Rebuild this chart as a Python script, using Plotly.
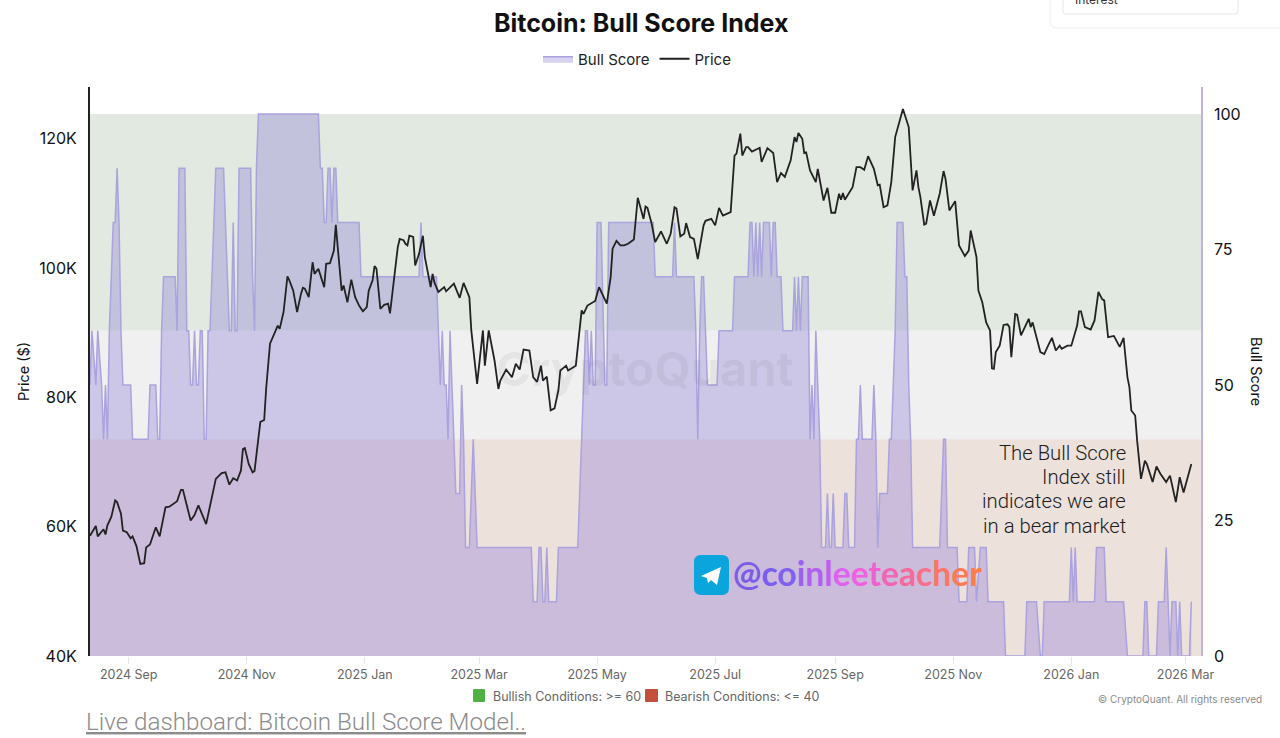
import pandas as pd
import plotly.graph_objects as go

start_date = "2024-08-12"

price_day = [
    0,3,4,7,8,9,11,13,14,16,
    17,19,21,22,24,26,28,29,31,34,
    36,37,39,41,43,45,47,48,50,52,
    54,56,60,62,65,68,70,72,74,76,
    78,79,80,82,84,85,87,88,90,91,
    93,95,97,98,100,102,103,105,107,109,
    110,111,113,115,116,118,121,122,124,126,
    127,128,130,131,133,135,137,139,141,143,
    144,146,147,148,150,152,154,155,157,159,
    160,162,163,164,165,167,168,170,172,173,
    176,177,178,180,183,184,188,191,193,196,
    197,198,200,203,204,206,209,211,212,215,
    218,220,222,224,227,229,231,233,234,236,
    238,240,242,243,246,247,251,254,255,257,
    259,261,263,267,269,270,272,274,276,278,
    281,283,286,287,288,290,292,295,298,300,
    302,303,305,307,308,310,312,314,317,318,
    321,323,325,327,331,333,334,336,337,339,
    340,342,345,346,347,350,353,355,357,359,
    362,364,365,366,368,369,370,372,375,376,
    379,381,383,385,387,388,389,390,394,396,
    398,400,402,404,405,407,408,410,412,414,
    416,420,423,425,427,428,429,431,432,434,
    436,439,441,442,444,447,449,452,454,455,
    458,459,461,463,465,466,467,468,470,472,
    474,475,476,478,479,481,485,486,487,491,
    493,495,497,499,501,502,505,507,510,511,
    512,514,517,519,521,523,524,526,529,532,
    534,536,537,538,540,541,543,545,546,549,
    551,553,556,558,561,563,565,569,
]
price_k = [
    58.6,60.1,58.5,59.6,58.8,60.2,61.5,64.05,63.8,62.0,
    59.4,59.15,58.2,58.5,57.0,54.25,54.35,56.8,57.25,59.9,
    58.5,60.2,63.0,63.1,63.5,63.95,65.7,65.7,63.3,60.95,
    61.8,63.3,60.4,63.0,67.4,68.3,68.4,66.5,67.5,67.15,
    68.7,72.0,72.15,69.7,68.4,68.6,74.1,76.2,76.5,81.3,
    88.3,89.6,91.1,90.6,93.2,98.7,98.1,96.5,93.2,96.0,
    96.95,96.8,95.5,100.9,99.1,99.9,97.05,100.66,100.76,102.7,
    106.7,103.2,96.5,97.3,94.7,98.2,95.5,94.2,93.3,93.95,
    96.5,98.1,100.3,99.9,93.7,94.3,94.5,93.0,98.6,103.2,
    104.5,104.3,103.75,103.5,105.0,104.8,100.4,102.2,105.0,101.7,
    97.05,99.1,97.7,96.3,97.05,96.4,97.6,95.4,97.7,95.5,
    90.35,87.5,82.1,90.35,84.9,90.35,85.7,81.3,82.6,84.3,
    83.1,85.2,84.3,87.4,87.25,83.1,82.4,84.9,82.6,83.2,
    78.0,78.3,81.1,84.16,84.9,84.16,84.9,93.44,92.9,94.2,
    94.5,94.9,97.05,94.5,98.6,103.0,104.2,103.5,103.5,103.75,
    104.4,110.87,107.6,109.5,109.3,107.1,104.0,105.66,103.75,105.3,
    109.4,109.2,104.9,105.3,106.95,104.8,104.5,101.4,106.6,107.3,
    107.6,106.6,109.3,108.1,108.65,117.4,117.7,120.8,117.4,118.7,
    118.7,118.0,118.45,118.6,116.4,118.55,117.8,113.3,114.7,114.1,
    116.65,120.25,119.5,120.9,120.0,117.8,117.9,115.1,113.3,115.35,
    110.45,112.4,108.55,108.55,111.5,110.56,111.6,110.56,112.5,115.6,
    115.6,115.2,117.3,115.9,115.35,112.8,112.9,109.4,109.7,113.3,
    120.25,124.6,121.8,112.0,115.1,112.5,111.0,106.7,106.85,110.45,
    108.1,111.5,115.0,113.8,108.9,110.35,103.5,101.85,102.7,105.8,
    101.7,96.5,94.7,91.6,90.35,84.5,84.4,87.0,88.0,91.2,
    91.3,90.86,86.2,92.9,92.8,89.6,92.15,90.86,91.6,87.0,
    86.7,88.0,89.2,87.25,88.0,87.5,88.0,88.0,91.1,93.3,
    93.3,90.86,90.5,91.9,96.3,95.15,95.0,89.3,89.5,87.8,
    89.2,83.1,81.6,77.97,77.2,73.3,67.4,70.2,69.7,66.9,
    69.3,68.2,66.9,67.9,63.8,67.65,65.3,69.7,
]

score_day = [
    0,1,3,4,6,7,8,9,10,11,
    12,13,14,15,16,17,21,22,30,31,
    34,35,36,37,38,44,45,46,49,50,
    51,52,53,54,55,56,57,58,59,60,
    61,62,63,64,65,69,70,71,72,73,
    74,75,76,77,83,84,85,86,87,118,
    119,120,121,122,123,124,125,126,127,128,
    139,140,170,171,172,179,180,181,182,183,
    184,185,186,187,188,189,191,192,193,194,
    196,197,198,199,200,228,229,231,232,233,
    234,235,236,237,241,242,252,253,254,255,
    256,257,258,259,260,261,262,264,266,267,
    268,291,292,301,302,303,312,313,314,315,
    316,317,318,319,324,325,332,333,340,341,
    342,343,344,345,346,347,348,351,352,353,
    354,355,357,358,363,364,365,366,367,368,
    371,372,373,374,375,376,377,378,380,381,
    382,383,384,385,389,390,391,392,395,396,
    397,398,399,404,405,406,407,408,412,413,
    414,415,416,417,420,421,422,423,424,425,
    439,441,442,443,448,449,453,454,457,458,
    460,463,464,472,473,483,484,489,491,492,
    493,506,507,508,509,510,519,520,524,525,
    534,536,544,545,546,547,551,552,555,556,
    557,558,559,561,562,563,564,568,569,
]
score_val = [
    50,60,50,60,50,40,50,40,60,70,
    80,80,90,80,60,50,50,40,40,50,
    50,40,40,60,70,70,60,90,90,60,
    60,50,50,60,50,50,60,60,40,40,
    60,60,70,80,90,90,80,70,60,60,
    80,60,60,90,90,70,60,90,100,100,
    90,90,80,80,90,90,80,90,90,80,
    80,70,70,80,70,70,60,50,60,50,
    50,40,60,50,40,30,30,50,40,20,
    20,30,40,30,20,20,10,10,20,20,
    10,10,20,10,10,20,20,30,40,50,
    60,60,50,60,50,50,80,80,50,50,
    80,80,70,70,80,70,70,60,40,60,
    70,70,60,50,50,60,60,70,70,80,
    80,70,80,70,80,70,80,80,70,80,
    80,70,70,60,60,70,60,70,60,70,
    70,40,50,40,60,50,40,20,20,30,
    20,20,30,20,20,30,30,20,20,40,
    40,50,40,40,50,40,20,30,30,40,
    40,50,60,80,80,70,70,50,40,20,
    20,40,40,20,20,10,10,20,20,10,
    20,20,10,10,0,0,10,10,0,0,
    10,10,20,10,20,10,10,20,20,10,
    10,0,0,10,10,0,0,10,10,20,
    10,0,10,10,0,10,0,0,10,
]

x_tick_dates = ["2024-09-01","2024-11-01","2025-01-01","2025-03-01","2025-05-01",
                "2025-07-01","2025-09-01","2025-11-01","2026-01-01","2026-03-01"]
x_tick_labels = ["2024 Sep","2024 Nov","2025 Jan","2025 Mar","2025 May",
                 "2025 Jul","2025 Sep","2025 Nov","2026 Jan","2026 Mar"]
price_ticks = [40000, 60000, 80000, 100000, 120000]
price_tick_labels = ["40K", "60K", "80K", "100K", "120K"]
score_ticks = [0, 25, 50, 75, 100]

handle = "@coinleeteacher"
handle_colors = ["#7a5ce8","#7a5cf0","#8060f0","#9a60f0","#b060f0","#c060f0","#e060f0","#f060e0",
                 "#f060d0","#f065b5","#f56a9e","#f87088","#fa7565","#fb7a55","#fb7d4a"]
comment_lines = ["The Bull Score", "Index still", "indicates we are", "in a bear market"]

origin = pd.Timestamp(start_date)
price_dates = [origin + pd.Timedelta(days=d) for d in price_day]
score_dates = [origin + pd.Timedelta(days=d) for d in score_day]
price_usd = [p * 1000 for p in price_k]

L, R, T, B = 90, 1201, 87, 656
def px(x): return (x - L) / (R - L)
def py(y): return (B - y) / (B - T)

FONT = "Inter, Roboto, sans-serif"

fig = go.Figure()
fig.add_trace(go.Scatter(x=score_dates, y=score_val, name="Bull Score", yaxis="y", mode="lines",
                         fill="tozeroy", fillcolor="rgba(126,108,212,0.31)",
                         line=dict(color="#aaa3de", width=1.5)))
fig.add_trace(go.Scatter(x=price_dates, y=price_usd, name="Price", yaxis="y2", mode="lines",
                         line=dict(color="#222222", width=1.8)))

x0, x1 = "2024-08-12", "2026-03-09"
shapes = [
    dict(type="rect", xref="x", yref="y", x0=x0, x1=x1, y0=60, y1=100, fillcolor="#e1e9e1", line_width=0, layer="below"),
    dict(type="rect", xref="x", yref="y", x0=x0, x1=x1, y0=40, y1=60, fillcolor="#f0f0f0", line_width=0, layer="below"),
    dict(type="rect", xref="x", yref="y", x0=x0, x1=x1, y0=0, y1=40, fillcolor="#ede1dc", line_width=0, layer="below"),
]

def rrect(xa, ya, xb, yb, r):
    return (f"M {px(xa+r)} {py(ya)} L {px(xb-r)} {py(ya)} Q {px(xb)} {py(ya)} {px(xb)} {py(ya+r)} "
            f"L {px(xb)} {py(yb-r)} Q {px(xb)} {py(yb)} {px(xb-r)} {py(yb)} "
            f"L {px(xa+r)} {py(yb)} Q {px(xa)} {py(yb)} {px(xa)} {py(yb-r)} "
            f"L {px(xa)} {py(ya+r)} Q {px(xa)} {py(ya)} {px(xa+r)} {py(ya)} Z")

# Telegram badge
shapes.append(dict(type="path", xref="paper", yref="paper", path=rrect(694, 555, 729, 595, 7),
                   fillcolor="#0ba5de", line_width=0))
plane = [(701, 576), (721, 567), (717, 585), (711, 580), (708, 583), (707, 578)]
shapes.append(dict(type="path", xref="paper", yref="paper",
                   path="M " + " L ".join(f"{px(a)} {py(b)}" for a, b in plane) + " Z",
                   fillcolor="#ffffff", line_width=0))
# Condition squares
shapes.append(dict(type="path", xref="paper", yref="paper", path=rrect(473, 689, 485, 702, 1),
                   fillcolor="#4fb043", line_width=0))
shapes.append(dict(type="path", xref="paper", yref="paper", path=rrect(645, 689, 658, 702, 1),
                   fillcolor="#c4503c", line_width=0))
# Cropped card at the top right
shapes.append(dict(type="path", xref="paper", yref="paper",
                   path=f"M {px(1050)} {py(-5)} L {px(1050)} {py(21)} Q {px(1050)} {py(28)} {px(1057)} {py(28)} L {px(1285)} {py(28)}",
                   line=dict(color="#eeeeee", width=1)))
shapes.append(dict(type="path", xref="paper", yref="paper", path=rrect(1063, -8, 1238, 14, 3),
                   line=dict(color="#e6e6e6", width=1), fillcolor="#ffffff"))

def note(text, x, y, size, color="#000000", xanchor="center", family=FONT, **kw):
    return dict(text=text, x=px(x), y=py(y), xref="paper", yref="paper", showarrow=False,
                xanchor=xanchor, yanchor="middle", align=xanchor if xanchor != "center" else "center",
                font=dict(size=size, color=color, family=family, **kw))

handle_html = "".join(f'<span style="color:{c}">{ch}</span>' for ch, c in zip(handle, handle_colors))

annotations = [
    note("CryptoQuant", 645, 368, 47, "rgba(60,60,60,0.07)", weight=700),
    note(handle_html, 731, 573, 33.7, "#7a5ce8", "left", "Lato, sans-serif", weight=700),
    note("Bullish Conditions: >= 60", 491, 696, 12.5, "#666666", "left"),
    note("Bearish Conditions: <= 40", 663, 696, 12.5, "#666666", "left"),
    note("© CryptoQuant. All rights reserved", 1264, 699, 10, "#8a8a8a", "right"),
    note("<u>Live dashboard: Bitcoin Bull Score Model..</u>", 84, 722, 24.2, "#8c8c8c", "left",
         "Roboto, sans-serif", weight=300),
    note("Interest", 1073, -1, 12, "#333333", "left"),
]
for line, y in zip(comment_lines, [453, 477, 501, 526]):
    annotations.append(note(line, 1128, y, 20.3, "#1c1c1c", "right", "Roboto, sans-serif", weight=300))
bull_title = note("Bull Score", 1257, 371, 14.5, "#111111")
bull_title["textangle"] = 90
annotations.append(bull_title)

fig.update_layout(
    width=1280, height=738, margin=dict(l=L, r=1280 - R, t=T, b=738 - B),
    paper_bgcolor="#ffffff", plot_bgcolor="#ffffff",
    font=dict(family=FONT, size=14, color="#111111"),
    title=dict(text="<b>Bitcoin: Bull Score Index</b>", x=635 / 1280, xanchor="center", xref="paper",
               y=1 - 23 / 738, yanchor="middle", font=dict(size=25, color="#111111", family=FONT)),
    showlegend=True,
    legend=dict(orientation="h", x=px(637), xanchor="center", y=py(59), yanchor="middle",
                font=dict(size=15, color="#222222"), bgcolor="rgba(0,0,0,0)", traceorder="normal"),
    xaxis=dict(type="date", range=[x0, x1], tickmode="array", tickvals=x_tick_dates, ticktext=x_tick_labels,
               showgrid=False, zeroline=False, showline=False, ticks="outside", ticklen=7, tickcolor="#e6e6e6",
               tickfont=dict(size=12.5, color="#666666"), tickangle=0),
    yaxis=dict(side="right", range=[0, 105], tickmode="array", tickvals=score_ticks, showgrid=False,
               zeroline=False, showline=True, linecolor="#b9b4e6", linewidth=1.5, ticks="outside", ticklen=8,
               tickcolor="rgba(0,0,0,0)", tickfont=dict(size=16, color="#111111")),
    yaxis2=dict(overlaying="y", side="left", range=[40000, 128000], tickmode="array", tickvals=price_ticks,
                ticktext=price_tick_labels, showgrid=False, zeroline=False, showline=True, linecolor="#222222",
                linewidth=2, ticks="outside", ticklen=8, tickcolor="rgba(0,0,0,0)",
                tickfont=dict(size=16, color="#111111"),
                title=dict(text="Price ($)", font=dict(size=14.5, color="#111111"), standoff=6)),
    shapes=shapes,
    annotations=annotations,
)

fig.write_html("out.html", config={"displayModeBar": False},
               post_script="document.body.style.margin='0';document.documentElement.style.overflow='hidden';")
